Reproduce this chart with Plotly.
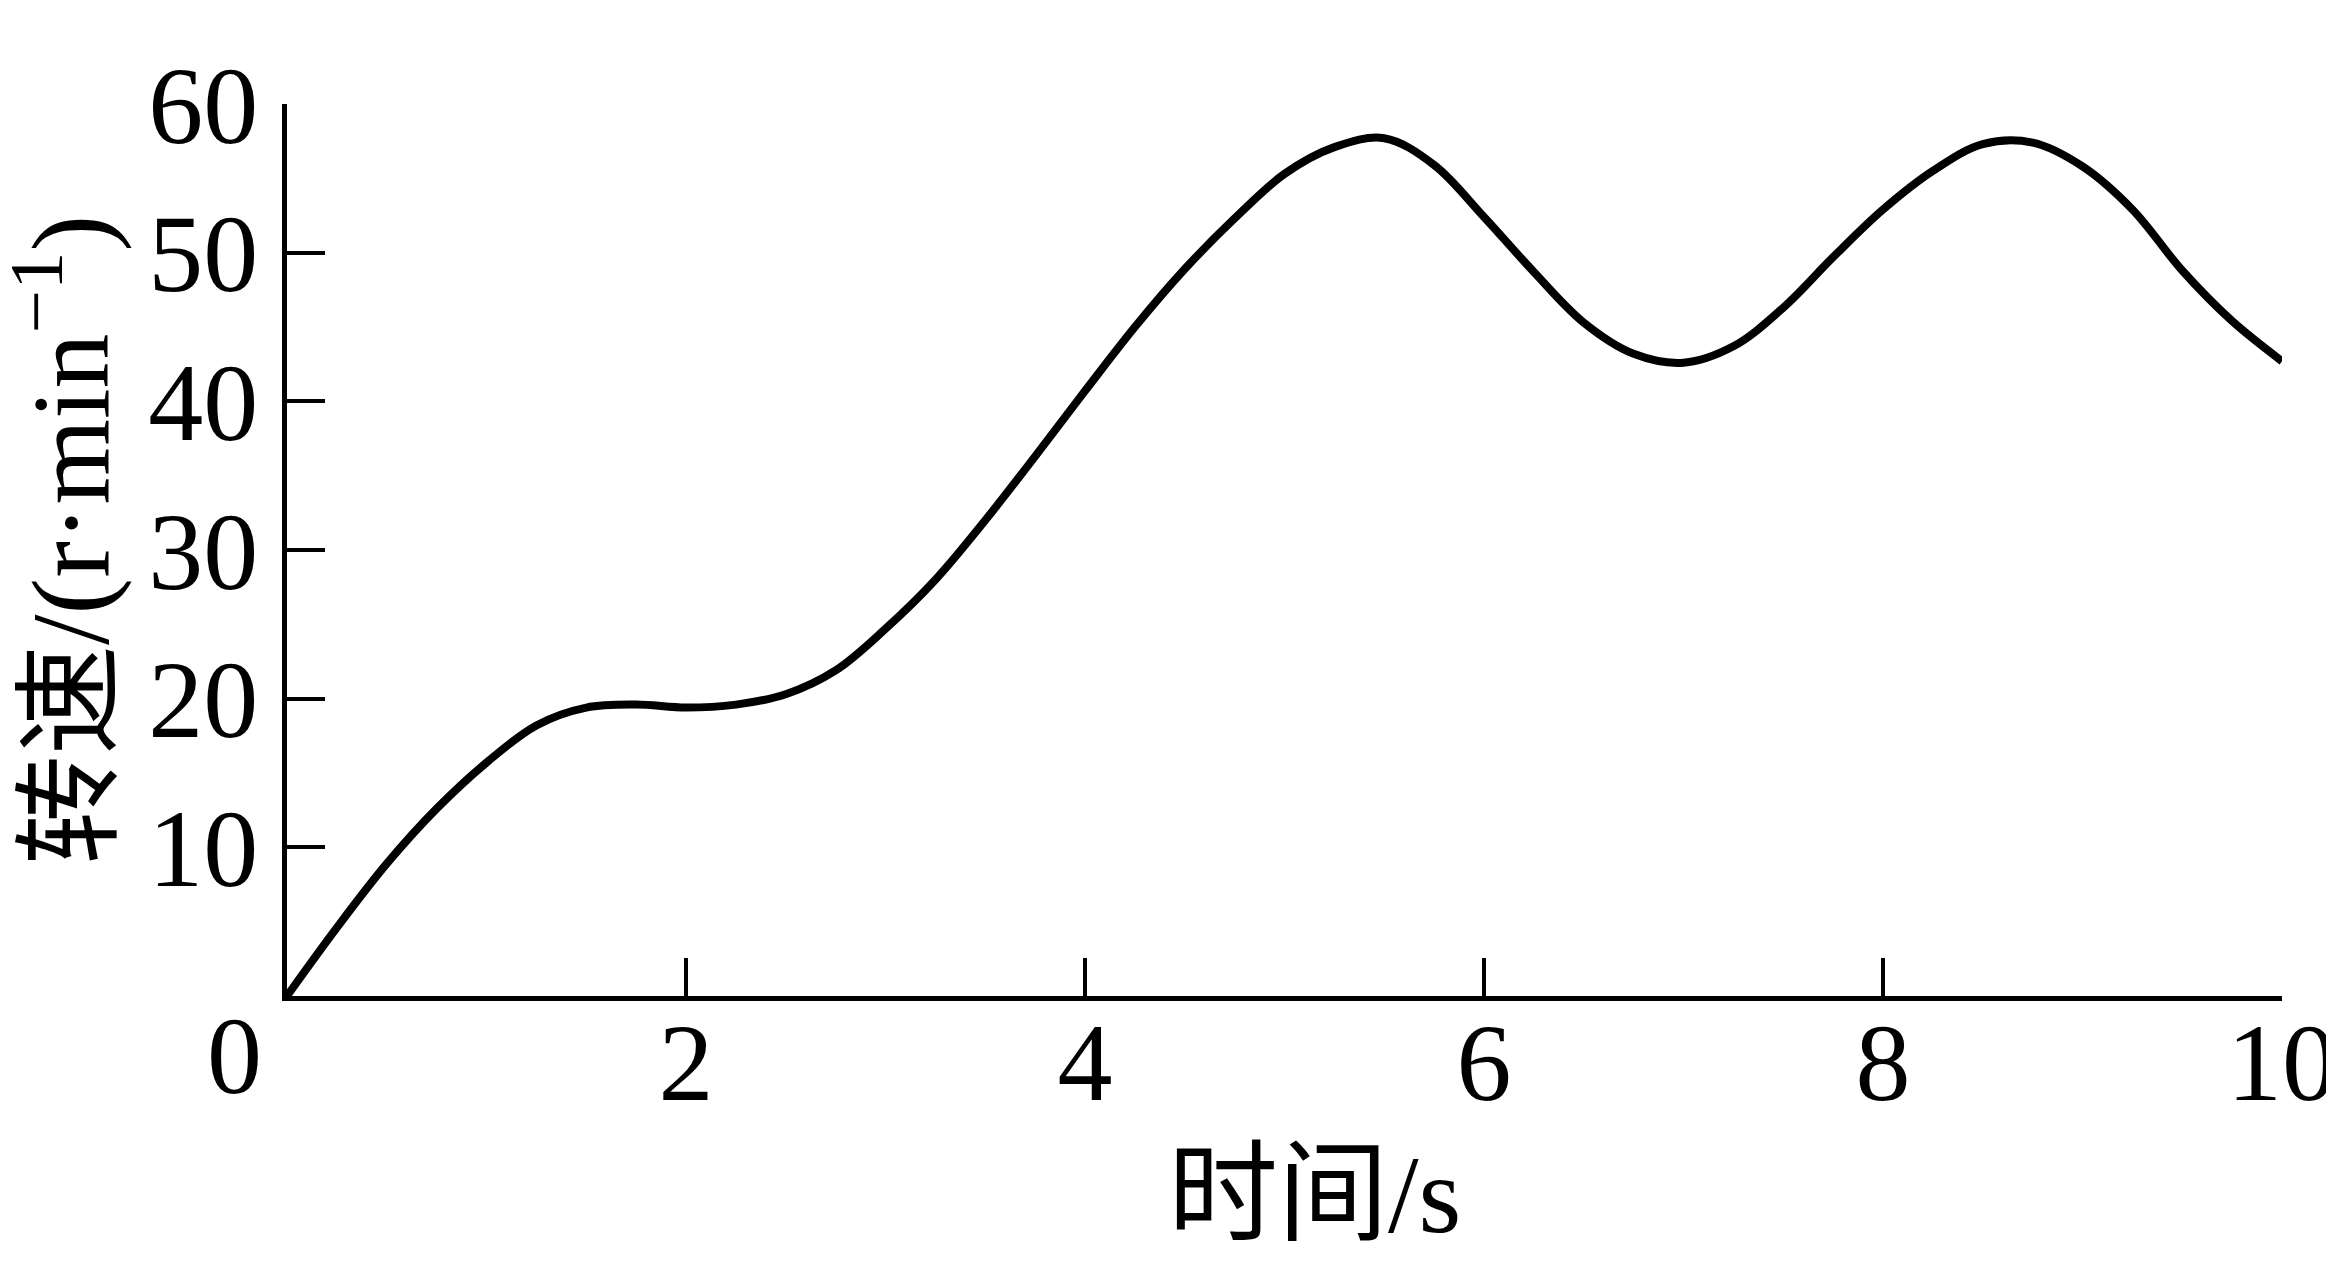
import plotly.graph_objects as go

# speed curve (time in s, speed in r/min)
time_s = [0, 0.25, 0.5, 0.75, 1.0, 1.25, 1.5, 1.75, 2.0, 2.25, 2.5, 2.75, 3.0,
          3.25, 3.5, 3.75, 4.0, 4.25, 4.5, 4.75, 5.0, 5.25, 5.5, 5.75, 6.0,
          6.25, 6.5, 6.75, 7.0, 7.25, 7.5, 7.75, 8.0, 8.25, 8.5, 8.75, 9.0,
          9.25, 9.5, 9.75, 10.0]
speed = [0, 4.6, 8.9, 12.6, 15.7, 18.2, 19.4, 19.6, 19.4, 19.6, 20.3, 21.9, 24.7,
         28.0, 32.0, 36.3, 40.7, 45.0, 48.9, 52.3, 55.3, 57.1, 57.7, 55.9, 52.4,
         48.7, 45.3, 43.2, 42.6, 43.7, 46.3, 49.7, 52.9, 55.5, 57.3, 57.4, 55.8,
         52.9, 48.8, 45.4, 42.7]

x_ticks = [2, 4, 6, 8, 10]
y_ticks = [10, 20, 30, 40, 50, 60]
x_title = "时间/s"
y_title = "转速/(r·min<sup>−1</sup>)"

FONT = "Liberation Serif, Times New Roman, Noto Sans CJK SC"
SIZE = 110

# page has an 8px body margin; figure is shifted by it
W, H = 2334, 1271
L, R, T, B = 279, 60, 96, 283

fig = go.Figure()
fig.add_trace(go.Scatter(
    x=time_s, y=speed, mode="lines",
    line=dict(color="black", width=8, shape="spline", smoothing=1.0),
    showlegend=False, hoverinfo="skip",
))

axis_style = dict(
    showline=True, linecolor="black", linewidth=4.5,
    ticks="inside", ticklen=38, tickwidth=4, tickcolor="black",
    showgrid=False, zeroline=False, automargin=False,
    tickfont=dict(family=FONT, size=SIZE, color="black"),
)
fig.update_xaxes(range=[0, 10], tickvals=x_ticks, ticklabelstandoff=-33,
                 ticklabeloverflow="allow", **axis_style)
fig.update_yaxes(range=[0, 60], tickvals=y_ticks, ticklabelstandoff=2, **axis_style)


def to_paper(px, py):
    """Window pixel position -> paper coords."""
    return (px - 8 - L) / (W - L - R), (H - B - (py - 8)) / (H - T - B)


# shared origin label
fig.add_annotation(x=0, y=0, xref="x", yref="y", text="0", showarrow=False,
                   xshift=-53, yshift=-60, font=dict(family=FONT, size=SIZE, color="black"))

# axis titles
ax, ay = to_paper(1314, 1195)
fig.add_annotation(x=ax, y=ay, xref="paper", yref="paper", text=x_title, showarrow=False,
                   xanchor="center", yanchor="middle",
                   font=dict(family=FONT, size=SIZE, color="black"))
ax, ay = to_paper(62, 540)
fig.add_annotation(x=ax, y=ay, xref="paper", yref="paper", text=y_title, showarrow=False,
                   textangle=-90, xanchor="center", yanchor="middle",
                   font=dict(family=FONT, size=SIZE, color="black"))

fig.update_layout(
    width=W, height=H,
    margin=dict(l=L, r=R, t=T, b=B),
    plot_bgcolor="white", paper_bgcolor="white",
)

fig.write_html("out.html")
